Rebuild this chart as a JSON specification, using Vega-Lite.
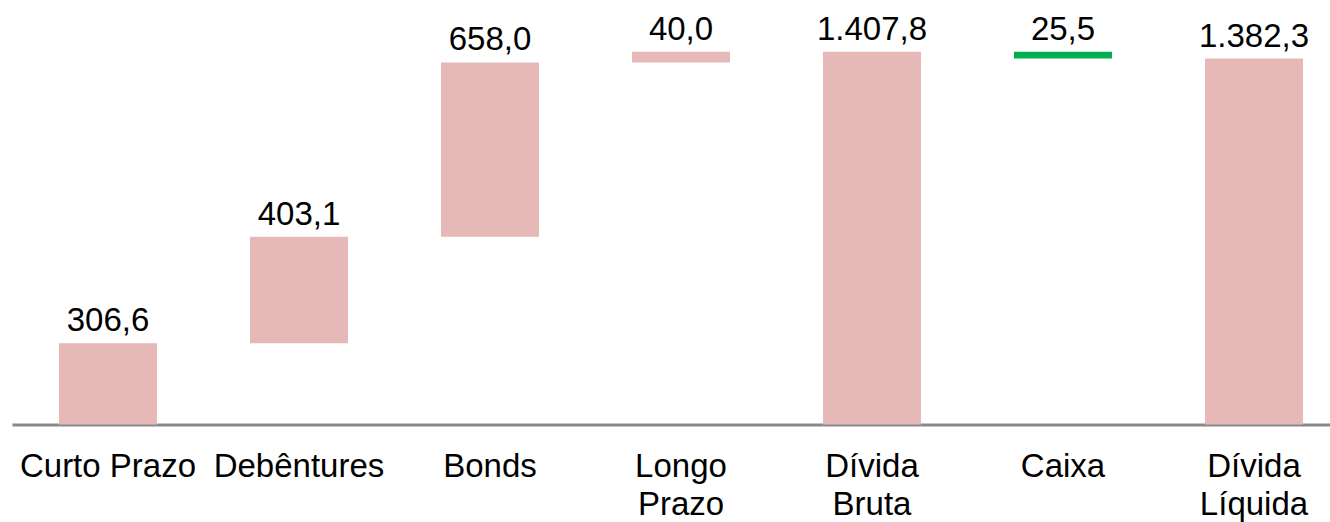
{
  "$schema": "https://vega.github.io/schema/vega-lite/v6.json",
  "width": 1318,
  "height": 423.5,
  "autosize": {"type": "none"},
  "padding": {"left": 12, "top": 1, "right": 0, "bottom": 97.5},
  "background": "white",
  "config": {"view": {"stroke": null}, "font": "Liberation Sans"},
  "data": {
    "values": [
      {"cat": "Curto Prazo", "low": 0, "high": 306.6, "label": "306,6", "kind": "debt"},
      {"cat": "Debêntures", "low": 306.6, "high": 709.7, "label": "403,1", "kind": "debt"},
      {"cat": "Bonds", "low": 709.7, "high": 1367.7, "label": "658,0", "kind": "debt"},
      {"cat": "Longo Prazo", "low": 1367.7, "high": 1407.8, "label": "40,0", "kind": "debt"},
      {"cat": "Dívida Bruta", "low": 0, "high": 1407.8, "label": "1.407,8", "kind": "debt"},
      {"cat": "Caixa", "low": 1382.3, "high": 1407.8, "label": "25,5", "kind": "cash"},
      {"cat": "Dívida Líquida", "low": 0, "high": 1382.3, "label": "1.382,3", "kind": "debt"}
    ]
  },
  "encoding": {
    "x": {
      "field": "cat",
      "type": "nominal",
      "sort": null,
      "title": null,
      "scale": {"paddingInner": 0.487, "paddingOuter": 0.1937, "align": 0.635},
      "axis": {
        "labelAngle": 0,
        "labelFontSize": 33,
        "labelColor": "black",
        "labelFont": "Liberation Sans",
        "labelLineHeight": 38,
        "labelPadding": 26,
        "labelExpr": "datum.label == 'Curto Prazo' ? datum.label : split(datum.label, ' ')",
        "ticks": false,
        "tickSize": 0,
        "domainColor": "#898989",
        "domainWidth": 3,
        "labelOverlap": false,
        "labelBound": false
      }
    }
  },
  "layer": [
    {
      "mark": {"type": "bar"},
      "encoding": {
        "y": {"field": "low", "type": "quantitative", "scale": {"domain": [0, 1600], "nice": false}, "axis": null},
        "y2": {"field": "high"},
        "color": {"field": "kind", "type": "nominal", "scale": {"domain": ["debt", "cash"], "range": ["#E6B9B8", "#00B050"]}, "legend": null}
      }
    },
    {
      "mark": {"type": "text", "baseline": "alphabetic", "dy": -12, "fontSize": 33, "color": "black", "font": "Liberation Sans"},
      "encoding": {
        "y": {"field": "high", "type": "quantitative"},
        "text": {"field": "label"}
      }
    }
  ]
}
